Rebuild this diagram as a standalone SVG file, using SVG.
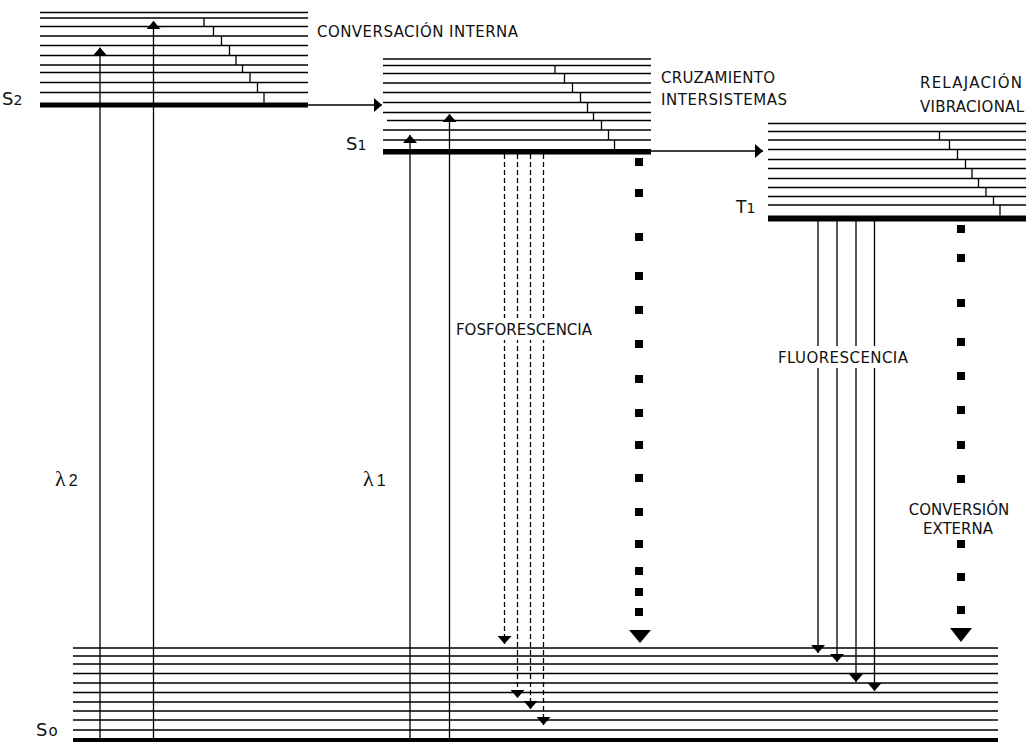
<svg xmlns="http://www.w3.org/2000/svg" width="1026" height="742" viewBox="0 0 1026 742">
<style>
.lv{fill:none;stroke:#000;stroke-width:1.3}
.thick{fill:#000}
.cn{fill:none;stroke:#000;stroke-width:1.3}
.dash{stroke-dasharray:5 3}
.sq{fill:#000}
.lbl{font-family:"DejaVu Sans",Verdana,sans-serif;font-size:15px;fill:#111}
.st{font-family:"DejaVu Sans",Verdana,sans-serif;fill:#111}
.lam{font-family:"Liberation Serif","DejaVu Serif",serif;fill:#111}
</style>
<defs>
<marker id="ah" viewBox="0 0 8 14" refX="8" refY="7" markerWidth="8" markerHeight="14" markerUnits="userSpaceOnUse" orient="auto"><path d="M0,0L8,7L0,14z" fill="#000"/></marker>
</defs>
<rect width="1026" height="742" fill="#fff"/>

<g id="S2">
<path class="lv" d="M40,12.5H308M40,18H308M40,26.5H308M40,36H308M40,45.5H308M40,55.5H308M40,65H308M40,72.5H308M40,82.5H308M40,92.5H308"/>
<rect class="thick" x="40" y="102.5" width="268" height="5"/>
<path class="lv" d="M204,18V26.5M213.5,26.5V36M221.5,36V45.5M229.5,45.5V55.5M236,55.5V65M242.5,65V72.5M250,72.5V82.5M257.5,82.5V92.5M264,92.5V102.5"/>
<text class="st" x="2" y="105"><tspan font-size="18">S</tspan><tspan font-size="14">2</tspan></text>
</g>

<g id="S1">
<path class="lv" d="M383,59H651M383,65.5H651M383,73.5H651M383,83H651M383,92.5H651M383,102.5H651M383,112.5H651M387,120.5H651M383,130H651M383,140H651"/>
<rect class="thick" x="383" y="149" width="268" height="5.5"/>
<path class="lv" d="M555,65.5V73.5M564.5,73.5V83M572.5,83V92.5M580.5,92.5V102.5M587.5,102.5V112.5M593.5,112.5V120.5M601.5,120.5V130M608.5,130V140M614.5,140V149"/>
<text class="st" x="346" y="150"><tspan font-size="18">S</tspan><tspan font-size="14">1</tspan></text>
</g>

<g id="T1">
<path class="lv" d="M768,123.5H1026M768,131.5H1026M768,140H1026M768,149.5H1026M768,159.5H1026M768,168.5H1026M768,178.5H1026M768,187.5H1026M768,196.5H1026M768,205H1026"/>
<rect class="thick" x="768" y="215.5" width="258" height="6"/>
<path class="lv" d="M939.5,131.5V140M949.5,140V149.5M957.5,149.5V159.5M965.5,159.5V168.5M972,168.5V178.5M978.5,178.5V187.5M986,187.5V196.5M993.5,196.5V205M1000,205V215.5"/>
<text class="st" x="736" y="213"><tspan font-size="17">T</tspan><tspan font-size="14">1</tspan></text>
</g>

<g id="S0">
<path class="lv" d="M73,648H998M73,656H998M73,664H998M73,673.5H998M73,683H998M73,692.5H998M73,702H998M73,711H998M73,720H998M73,730H998"/>
<rect class="thick" x="73" y="738" width="925" height="4.5"/>
<text class="st" x="36" y="736"><tspan font-size="18">S</tspan><tspan font-size="15" dx="1">o</tspan></text>
</g>

<g id="connectors">
<path class="cn" marker-end="url(#ah)" d="M100,742V47.5"/>
<path class="cn" marker-end="url(#ah)" d="M153.5,742V21"/>
<path class="cn" marker-end="url(#ah)" d="M410,742V135"/>
<path class="cn" marker-end="url(#ah)" d="M449.5,742V114"/>
<path class="cn" marker-end="url(#ah)" d="M308,105H382"/>
<path class="cn" marker-end="url(#ah)" d="M651,151H763"/>
<path class="cn dash" marker-end="url(#ah)" d="M504.5,154V644"/>
<path class="cn dash" marker-end="url(#ah)" d="M517.5,154V698"/>
<path class="cn dash" marker-end="url(#ah)" d="M530.5,154V709"/>
<path class="cn dash" marker-end="url(#ah)" d="M543.5,154V725"/>
<path class="cn" marker-end="url(#ah)" d="M818,221V653"/>
<path class="cn" marker-end="url(#ah)" d="M837,221V662"/>
<path class="cn" marker-end="url(#ah)" d="M856,221V682"/>
<path class="cn" marker-end="url(#ah)" d="M874.5,221V691"/>
<g id="dots-ic">
<rect class="sq" x="635" y="158" width="8" height="8"/>
<rect class="sq" x="635" y="189" width="8" height="8"/>
<rect class="sq" x="635" y="233" width="8" height="8"/>
<rect class="sq" x="635" y="272" width="8" height="8"/>
<rect class="sq" x="635" y="306" width="8" height="8"/>
<rect class="sq" x="635" y="340" width="8" height="8"/>
<rect class="sq" x="635" y="375" width="8" height="8"/>
<rect class="sq" x="635" y="409" width="8" height="8"/>
<rect class="sq" x="635" y="441" width="8" height="8"/>
<rect class="sq" x="635" y="474" width="8" height="8"/>
<rect class="sq" x="635" y="508" width="8" height="8"/>
<rect class="sq" x="635" y="540" width="8" height="8"/>
<rect class="sq" x="635" y="567" width="8" height="8"/>
<rect class="sq" x="635" y="588" width="8" height="8"/>
<rect class="sq" x="635" y="608" width="8" height="8"/>
<polygon class="sq" points="629,630 651,630 640,643"/>
</g>
<g id="dots-ce">
<rect class="sq" x="957" y="225" width="8" height="8"/>
<rect class="sq" x="957" y="254" width="8" height="8"/>
<rect class="sq" x="957" y="299" width="8" height="8"/>
<rect class="sq" x="957" y="338" width="8" height="8"/>
<rect class="sq" x="957" y="372" width="8" height="8"/>
<rect class="sq" x="957" y="406" width="8" height="8"/>
<rect class="sq" x="957" y="441" width="8" height="8"/>
<rect class="sq" x="957" y="475" width="8" height="8"/>
<rect class="sq" x="957" y="540" width="8" height="8"/>
<rect class="sq" x="957" y="573" width="8" height="8"/>
<rect class="sq" x="957" y="606" width="8" height="8"/>
<polygon class="sq" points="950,628 972,628 961,642"/>
</g>
</g>

<g id="labels">
<text class="lbl" x="317" y="37" textLength="201" lengthAdjust="spacing">CONVERSACIÓN INTERNA</text>
<text class="lbl" x="661" y="83" textLength="114" lengthAdjust="spacing">CRUZAMIENTO</text>
<text class="lbl" x="661" y="105" textLength="126" lengthAdjust="spacing">INTERSISTEMAS</text>
<text class="lbl" x="920" y="88" textLength="102" lengthAdjust="spacing">RELAJACIÓN</text>
<text class="lbl" x="920" y="112" textLength="104" lengthAdjust="spacing">VIBRACIONAL</text>
<rect x="452" y="318" width="142" height="22" fill="#fff"/>
<text class="lbl" x="456" y="335" textLength="136" lengthAdjust="spacing">FOSFORESCENCIA</text>
<rect x="775" y="346" width="136" height="22" fill="#fff"/>
<text class="lbl" x="778" y="363" textLength="130" lengthAdjust="spacing">FLUORESCENCIA</text>
<text class="lbl" x="959" y="515" text-anchor="middle">CONVERSIÓN</text>
<text class="lbl" x="958" y="534" text-anchor="middle">EXTERNA</text>
<text class="lam" x="55" y="486"><tspan font-size="22">λ</tspan><tspan font-family="Liberation Sans,Arial,sans-serif" font-size="16" dx="3">2</tspan></text>
<text class="lam" x="363" y="486"><tspan font-size="22">λ</tspan><tspan font-family="Liberation Sans,Arial,sans-serif" font-size="16" dx="3">1</tspan></text>
</g>
</svg>
